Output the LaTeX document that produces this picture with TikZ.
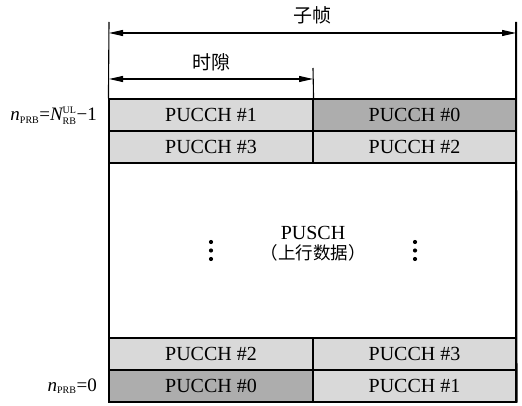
\documentclass[tikz,border=0pt]{standalone}
\usepackage{fontspec}
\setmainfont{Liberation Serif}
\newfontfamily\cjk{Noto Sans CJK SC}
\usetikzlibrary{arrows.meta}
\definecolor{lg}{HTML}{D9D9D9}
\definecolor{dg}{HTML}{ADADAD}
\begin{document}
\begin{tikzpicture}[x=1pt,y=-1pt,
  cell/.style={draw, line width=1.1pt, minimum width=204pt, minimum height=32pt, inner sep=0pt,
    font=\fontsize{20}{20}\selectfont},
  lbl/.style={font=\fontsize{19}{19}\selectfont\cjk, inner sep=0pt},
  dim/.style={line width=1.1pt, {Triangle[length=14pt,width=6pt]}-{Triangle[length=14pt,width=6pt]}},
  edge/.style={line width=1.1pt}]
\useasboundingbox (0,0) rectangle (522,406);
% PUSCH region
\node[draw, line width=1.1pt, minimum width=407pt, minimum height=175pt, inner sep=0pt] (pusch) at (312.5,250.5) {};
% cells
\node[cell, fill=lg] (c11) at (211,115) {PUCCH \#1};
\node[cell, fill=dg, minimum width=203pt] (c12) at (414.5,115) {PUCCH \#0};
\node[cell, fill=lg] (c21) at (211,147) {PUCCH \#3};
\node[cell, fill=lg, minimum width=203pt] (c22) at (414.5,147) {PUCCH \#2};
\node[cell, fill=lg] (c31) at (211,354) {PUCCH \#2};
\node[cell, fill=lg, minimum width=203pt] (c32) at (414.5,354) {PUCCH \#3};
\node[cell, fill=dg] (c41) at (211,386) {PUCCH \#0};
\node[cell, fill=lg, minimum width=203pt] (c42) at (414.5,386) {PUCCH \#1};
% PUSCH text
\node[font=\fontsize{20}{20}\selectfont, inner sep=0pt] (pt1) at (313,233) {PUSCH};
\node[lbl, font=\fontsize{17.5}{17.5}\selectfont\cjk] (pt2) at (313,253) {（上行数据）};
% vertical ellipses
\coordinate (d1) at (211,250.5);
\coordinate (d2) at (415,250.5);
\foreach \d in {d1,d2}{
  \fill (\d) ++(0,-8.5) circle (2.1pt);
  \fill (\d) circle (2.1pt);
  \fill (\d) ++(0,8.5) circle (2.1pt);
}
% vertical guide lines
\coordinate (lt) at (109,22);
\coordinate (rt) at (516,22);
\coordinate (mt) at (313,68);
\draw[edge] (lt) -- (c11.north west);
\draw[edge] (mt) -- (c11.north east);
\draw[line width=2pt] (rt) -- (c42.south east);
% dimension arrows
\coordinate (a1) at (109,33);
\coordinate (a2) at (516,33);
\coordinate (b1) at (109,79);
\coordinate (b2) at (313,79);
\draw[dim] (a1) -- (a2);
\draw[dim] (b1) -- (b2);
\node[lbl] (sf) at (312,15) {子帧};
\node[lbl] (sl) at (211,62) {时隙};
% left labels
\node[anchor=east, inner sep=0pt, font=\fontsize{19}{19}\selectfont] (n1) at (97,116)
  {$\textit{n}_{\mbox{\fontsize{10}{10}\selectfont PRB}}\mbox{=}\textit{N}_{\mbox{\fontsize{10}{10}\selectfont RB}}^{\mbox{\fontsize{10}{10}\selectfont UL}}\mbox{−1}$};
\node[anchor=east, inner sep=0pt, font=\fontsize{19}{19}\selectfont] (n0) at (97,386)
  {$\textit{n}_{\mbox{\fontsize{10}{10}\selectfont PRB}}\mbox{=0}$};
\end{tikzpicture}
\end{document}
